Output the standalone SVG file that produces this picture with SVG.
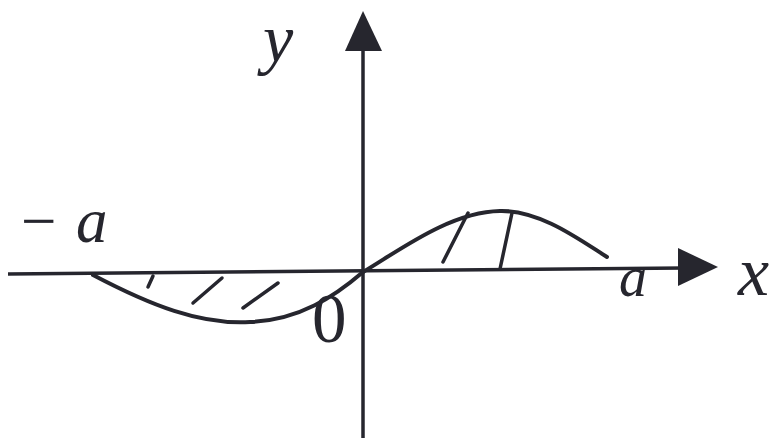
<svg xmlns="http://www.w3.org/2000/svg" width="777" height="441" viewBox="0 0 777 441">
<style>
.ax{stroke:#26262e;stroke-width:3.5;fill:none}
.cv{stroke:#26262e;stroke-width:4;fill:none;stroke-linecap:round}
.ht{stroke:#26262e;stroke-width:3.5;stroke-linecap:round}
.lb{font-family:"Liberation Serif","Times New Roman",serif;fill:#26262e}
.it{font-style:italic}
</style>
<rect width="777" height="441" fill="#ffffff"/>
<g id="axes">
<line id="x-axis" class="ax" x1="8" y1="274" x2="684" y2="268"/>
<polygon id="x-arrow" points="678,248 718,267 678,286" fill="#26262e"/>
<line id="y-axis" class="ax" x1="363" y1="438" x2="363" y2="44"/>
<polygon id="y-arrow" points="363,11 382,51 345,51" fill="#26262e"/>
</g>
<g id="curve">
<path class="cv" d="M93,275 C150,305 200,325 250,322 C300,320 335,296 363,272"/>
<path class="cv" d="M363,272 C400,250 450,212 500,211 C540,210 580,240 607,257"/>
</g>
<g id="hatching">
<line class="ht" x1="153" y1="276" x2="148" y2="287"/>
<line class="ht" x1="193" y1="303" x2="222" y2="278"/>
<line class="ht" x1="243" y1="308" x2="278" y2="283"/>
<line class="ht" x1="443" y1="262" x2="468" y2="213"/>
<line class="ht" x1="500" y1="269" x2="512" y2="213"/>
</g>
<g id="labels">
<text class="lb it" x="263" y="62" font-size="68">y</text>
<text class="lb it" x="738" y="295" font-size="70">x</text>
<text class="lb it" x="619" y="296" font-size="56">a</text>
<text class="lb" x="21" y="242" font-size="63">−<tspan class="it" x="76">a</tspan></text>
<text class="lb" x="312" y="342" font-size="69">0</text>
</g>
</svg>
